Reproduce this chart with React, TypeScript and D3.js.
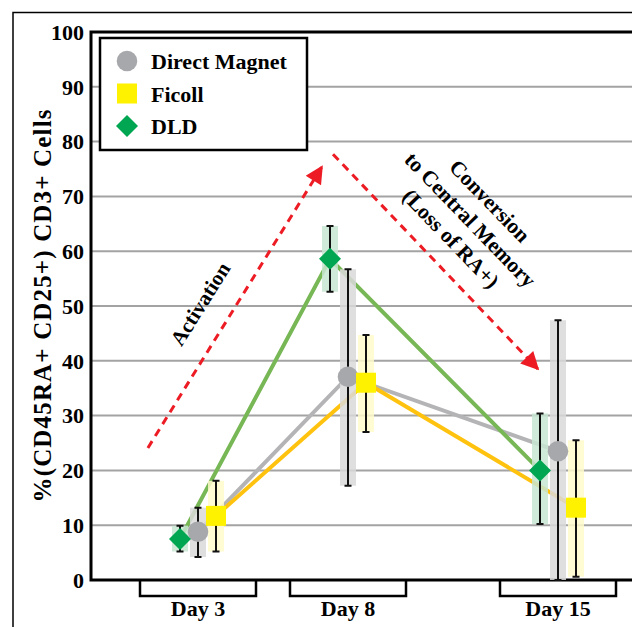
import { useEffect, useRef } from 'react';
import * as d3 from 'd3';

// time points (days) and their labels
const days = [3, 8, 15];
const dayLabels = ['Day 3', 'Day 8', 'Day 15'];
const yTicks = [0, 10, 20, 30, 40, 50, 60, 70, 80, 90, 100];

// % of CD45RA+ CD25+ in CD3+ cells, with error bar ends
const directMagnet = [8.8, 37.1, 23.5];
const directMagnetLow = [4.2, 17.2, 0];
const directMagnetHigh = [13.2, 56.7, 47.4];

const ficoll = [11.7, 36.0, 13.2];
const ficollLow = [5.2, 27.0, 0.6];
const ficollHigh = [18.1, 44.7, 25.5];

const dld = [7.5, 58.6, 20.0];
const dldLow = [5.2, 52.6, 10.2];
const dldHigh = [9.9, 64.6, 30.4];

// annotation arrows in data units [day, value]
const activationArrow = [[1.33, 24.1], [7.13, 75.4]];
const conversionArrow = [[7.5, 77.7], [14.33, 38.5]];

const FONT = "'Liberation Serif', 'Times New Roman', serif";

const App = () => {
  const svgRef = useRef<SVGSVGElement>(null);

  useEffect(() => {
    if (!svgRef.current) return;
    const W = 632;
    const H = 627;

    const svg = d3.select(svgRef.current);
    svg.selectAll('*').remove();
    svg.attr('width', W).attr('height', H);

    const x = d3.scaleLinear().domain([3, 15]).range([198, 558]);
    const y = d3.scaleLinear().domain([0, 100]).range([580, 32]);
    const left = 91;

    const series = [
      { name: 'Direct Magnet', values: directMagnet, low: directMagnetLow, high: directMagnetHigh,
        line: '#b4b4b6', marker: '#a7a8ab', band: '#d9d9db', shape: 'circle', offset: 0 },
      { name: 'Ficoll', values: ficoll, low: ficollLow, high: ficollHigh,
        line: '#ffc20e', marker: '#fff200', band: '#fffacb', shape: 'square', offset: 18 },
      { name: 'DLD', values: dld, low: dldLow, high: dldHigh,
        line: '#77b755', marker: '#00a651', band: '#c7e6d1', shape: 'diamond', offset: -18 },
    ];

    const drawMarker = (g, shape, cx, cy, fill) => {
      if (shape === 'circle') {
        g.append('circle').attr('cx', cx).attr('cy', cy).attr('r', 10.3).attr('fill', fill);
      } else if (shape === 'square') {
        g.append('rect').attr('x', cx - 10).attr('y', cy - 10).attr('width', 20).attr('height', 20).attr('fill', fill);
      } else {
        const r = 11;
        g.append('path')
          .attr('d', `M${cx},${cy - r}L${cx + r},${cy}L${cx},${cy + r}L${cx - r},${cy}Z`)
          .attr('fill', fill);
      }
    };

    // outer figure frame
    svg.append('path')
      .attr('d', `M13,${H + 5}V12.5H${W + 5}`)
      .attr('fill', 'none')
      .attr('stroke', '#000')
      .attr('stroke-width', 1.5);

    // gridlines
    svg.append('g')
      .selectAll('line')
      .data(yTicks.filter(t => t > 0 && t < 100))
      .enter()
      .append('line')
      .attr('x1', left)
      .attr('x2', W)
      .attr('y1', d => y(d))
      .attr('y2', d => y(d))
      .attr('stroke', '#a3a3a3')
      .attr('stroke-width', 2);

    // plot frame
    svg.append('path')
      .attr('d', `M${W},${y(100)}H${left}V${y(0)}H${W}`)
      .attr('fill', 'none')
      .attr('stroke', '#000')
      .attr('stroke-width', 3);

    // y tick labels
    svg.append('g')
      .selectAll('text')
      .data(yTicks)
      .enter()
      .append('text')
      .attr('x', 84)
      .attr('y', d => y(d))
      .attr('dy', '0.35em')
      .attr('text-anchor', 'end')
      .style('font-family', FONT)
      .style('font-weight', 'bold')
      .style('font-size', '22px')
      .text(d => d);

    // y axis title
    svg.append('text')
      .attr('transform', `translate(51,306) rotate(-90)`)
      .attr('text-anchor', 'middle')
      .style('font-family', FONT)
      .style('font-weight', 'bold')
      .style('font-size', '25px')
      .attr('textLength', 393)
      .attr('lengthAdjust', 'spacing')
      .text('%(CD45RA+ CD25+) CD3+ Cells');

    // day brackets and labels
    const xg = svg.append('g');
    days.forEach((d, i) => {
      xg.append('path')
        .attr('d', `M${x(d) - 58},${y(0)}V596H${x(d) + 58}V${y(0)}`)
        .attr('fill', 'none')
        .attr('stroke', '#000')
        .attr('stroke-width', 2.5);
      xg.append('text')
        .attr('x', x(d))
        .attr('y', 616)
        .attr('text-anchor', 'middle')
        .style('font-family', FONT)
        .style('font-weight', 'bold')
        .style('font-size', '22px')
        .text(dayLabels[i]);
    });

    // red dashed arrows
    const defs = svg.append('defs');
    defs.append('marker')
      .attr('id', 'arrowhead')
      .attr('viewBox', '0 0 10 10')
      .attr('refX', 9)
      .attr('refY', 5)
      .attr('markerUnits', 'userSpaceOnUse')
      .attr('markerWidth', 22)
      .attr('markerHeight', 18)
      .attr('orient', 'auto')
      .append('path')
      .attr('d', 'M0,0L10,5L0,10Z')
      .attr('fill', '#ed1c24');

    [activationArrow, conversionArrow].forEach(a => {
      svg.append('line')
        .attr('x1', x(a[0][0]))
        .attr('y1', y(a[0][1]))
        .attr('x2', x(a[1][0]))
        .attr('y2', y(a[1][1]))
        .attr('stroke', '#ed1c24')
        .attr('stroke-width', 3)
        .attr('stroke-dasharray', '8 6')
        .attr('marker-end', 'url(#arrowhead)');
    });

    svg.append('text')
      .attr('transform', `translate(${x(3.07)},${y(50.4)}) rotate(-58)`)
      .attr('text-anchor', 'middle')
      .attr('dy', '0.35em')
      .style('font-family', FONT)
      .style('font-weight', 'bold')
      .style('font-size', '21px')
      .text('Activation');

    const conv = svg.append('text')
      .attr('transform', `translate(${x(12.07)},${y(65.7)}) rotate(46)`)
      .attr('text-anchor', 'middle')
      .style('font-family', FONT)
      .style('font-weight', 'bold')
      .style('font-size', '21.5px');
    ['Conversion', 'to Central Memory', '(Loss of RA+)'].forEach((t, i) => {
      conv.append('tspan')
        .attr('x', 0)
        .attr('y', (i - 1) * 27 + 7)
        .text(t);
    });

    // series lines
    series.forEach(s => {
      const line = d3.line<number>()
        .x((_, i) => x(days[i]) + s.offset)
        .y(v => y(v));
      svg.append('path')
        .datum(s.values)
        .attr('d', line)
        .attr('fill', 'none')
        .attr('stroke', s.line)
        .attr('stroke-width', 4);
    });

    // error bands and bars
    series.forEach(s => {
      const g = svg.append('g');
      days.forEach((d, i) => {
        const cx = x(d) + s.offset;
        g.append('rect')
          .attr('x', cx - 8)
          .attr('y', y(s.high[i]))
          .attr('width', 16)
          .attr('height', y(s.low[i]) - y(s.high[i]))
          .attr('fill', s.band)
          .attr('opacity', 0.85);
        g.append('path')
          .attr('d', `M${cx},${y(s.high[i])}V${y(s.low[i])}M${cx - 3.5},${y(s.high[i])}H${cx + 3.5}M${cx - 3.5},${y(s.low[i])}H${cx + 3.5}`)
          .attr('fill', 'none')
          .attr('stroke', '#111')
          .attr('stroke-width', 2);
      });
    });

    // markers
    series.forEach(s => {
      const g = svg.append('g');
      days.forEach((d, i) => {
        drawMarker(g, s.shape, x(d) + s.offset, y(s.values[i]), s.marker);
      });
    });

    // legend
    const lg = svg.append('g');
    lg.append('rect')
      .attr('x', 100)
      .attr('y', 38)
      .attr('width', 207)
      .attr('height', 112)
      .attr('fill', '#fff')
      .attr('stroke', '#000')
      .attr('stroke-width', 2.5);
    series.forEach((s, i) => {
      const cy = 61 + i * 32.5;
      drawMarker(lg, s.shape, 127, cy, s.marker);
      lg.append('text')
        .attr('x', 151)
        .attr('y', cy + 8)
        .style('font-family', FONT)
        .style('font-weight', 'bold')
        .style('font-size', '22px')
        .text(s.name);
    });
  }, []);

  return (
    <div style={{ position: 'absolute', left: 0, top: 0, background: '#fff' }}>
      <svg ref={svgRef} style={{ display: 'block' }}></svg>
    </div>
  );
};

export default App;
